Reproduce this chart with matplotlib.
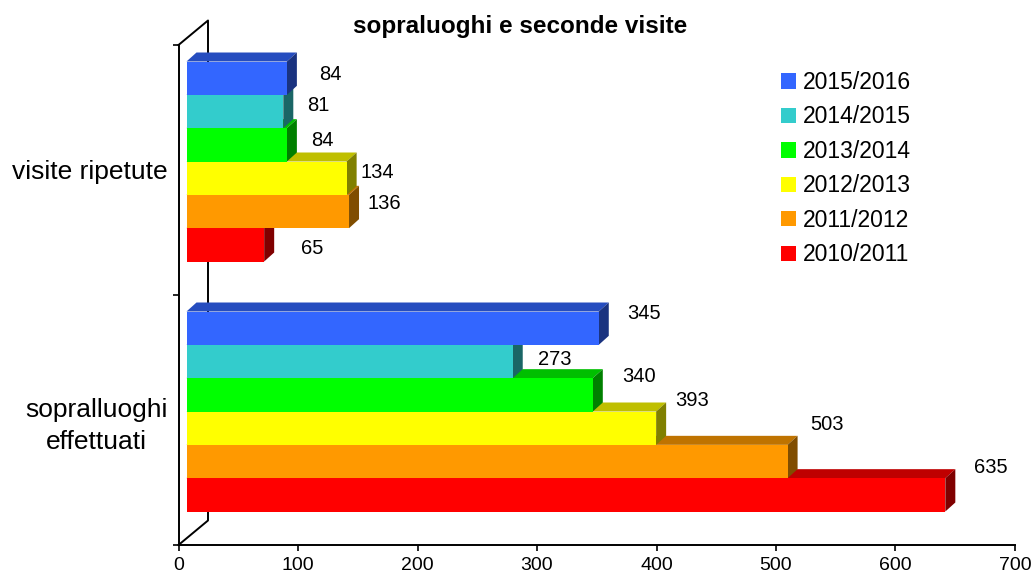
import matplotlib
matplotlib.use('Agg')
import matplotlib.pyplot as plt
from matplotlib.patches import Polygon, Patch
from matplotlib.transforms import ScaledTranslation
import numpy as np

plt.rcParams['font.family'] = ['Liberation Sans', 'DejaVu Sans']

# data
categories = ['sopralluoghi\neffettuati', 'visite ripetute']
seasons = ['2010/2011', '2011/2012', '2012/2013', '2013/2014', '2014/2015', '2015/2016']
sopralluoghi = [635, 503, 393, 340, 273, 345]
visite = [65, 136, 134, 84, 81, 84]
x_ticks = [0, 100, 200, 300, 400, 500, 600, 700]

colors = ['#FF0000', '#FF9900', '#FFFF00', '#00FF00', '#33CCCC', '#3366FF']

# value label nudges (pixels right / up from bar end)
nudges = [[(45, 27), (39, 37), (36, 28), (46, 18), (42, 2), (45, 15)],
          [(48, -4), (35, 8), (31, 6), (35, 4), (35, 6), (43, 4)]]

W, H = 1035, 579
FRONT = (8, 8.5)    # front face offset, px
DEPTH = (10, 9)     # bar depth, px
WALL = (29.5, 24.5) # back wall offset, px


def shade(c, f):
    c = np.array(matplotlib.colors.to_rgb(c)) * f
    return tuple(c)


fig = plt.figure(figsize=(W / 100, H / 100), dpi=100)
ax = fig.add_axes([178.5 / W, 34 / H, (1015 - 178.5) / W, 500 / H])
ax.set_xlim(0, 700)
ax.set_ylim(0, 2)
ax.set_autoscale_on(False)


def pt(x, y, dx=0, dy=0):
    X, Y = ax.transData.transform((x, y))
    return ax.transData.inverted().transform((X + dx, Y + dy))


front_tr = ax.transData + ScaledTranslation(FRONT[0] / 100, FRONT[1] / 100, fig.dpi_scale_trans)
FD = (FRONT[0] + DEPTH[0], FRONT[1] + DEPTH[1])

bh = 0.8 / len(seasons)
values = [sopralluoghi, visite]
for g, vals in enumerate(values):
    for i, v in enumerate(vals):
        y0 = g + 0.1 + i * bh
        y1 = y0 + bh
        z = 2 + i * 0.1
        top = Polygon([pt(0, y1, *FRONT), pt(v, y1, *FRONT), pt(v, y1, *FD), pt(0, y1, *FD)],
                      closed=True, facecolor=shade(colors[i], 0.75), edgecolor='none',
                      zorder=z, clip_on=False)
        side = Polygon([pt(v, y0, *FRONT), pt(v, y1, *FRONT), pt(v, y1, *FD), pt(v, y0, *FD)],
                       closed=True, facecolor=shade(colors[i], 0.5), edgecolor='none',
                       zorder=z, clip_on=False)
        ax.add_patch(top)
        ax.add_patch(side)
        ax.barh(y0, v, height=bh, left=0, align='edge', color=colors[i],
                transform=front_tr, zorder=z + 0.05, clip_on=False)
        nx, ny = nudges[g][i]
        ax.annotate(str(v), xy=(v, y0 + bh / 2),
                    xytext=((nx + FRONT[0]) * 0.72, (ny + FRONT[1]) * 0.72),
                    textcoords='offset points', ha='center', va='center',
                    fontsize=14.5, zorder=5)

# back wall
wall = np.array([pt(0, 2), pt(0, 2, *WALL), pt(0, 0, *WALL), pt(0, 0)])
ax.plot(wall[:, 0], wall[:, 1], color='black', lw=1.4, zorder=1, clip_on=False)

for s in ['top', 'right']:
    ax.spines[s].set_visible(False)
for s in ['left', 'bottom']:
    ax.spines[s].set_linewidth(1.4)
    ax.spines[s].set_zorder(6)

ax.set_xticks(x_ticks)
ax.set_xticklabels([str(t) for t in x_ticks], fontsize=14)
ax.set_yticks([0, 1, 2])
ax.set_yticklabels([])
ax.set_yticks([0.5, 1.5], minor=True)
ax.set_yticklabels(categories, minor=True, fontsize=19)
ax.tick_params(axis='both', which='major', direction='out', length=4.5, width=1.2)
ax.tick_params(axis='x', pad=4)
ax.tick_params(axis='y', which='minor', length=0, pad=8)
for t in ax.yaxis.get_minorticklabels():
    t.set_multialignment('center')
    t.set_linespacing(1.4)

fig.text(520 / W, 1 - 27 / H, 'sopraluoghi e seconde visite', ha='center', va='center',
         fontsize=17.5, fontweight='bold')

handles = [Patch(facecolor=colors[i], edgecolor='none', label=seasons[i]) for i in range(5, -1, -1)]
ax.legend(handles=handles, loc='upper left', bbox_to_anchor=(781 / W, 1 - 71 / H),
          bbox_transform=fig.transFigure, frameon=False, fontsize=16.5,
          handlelength=0.655, handleheight=0.655, handletextpad=0.28, labelspacing=0.5,
          borderpad=0, borderaxespad=0)

fig.savefig('out.png', dpi=100, facecolor='white')
